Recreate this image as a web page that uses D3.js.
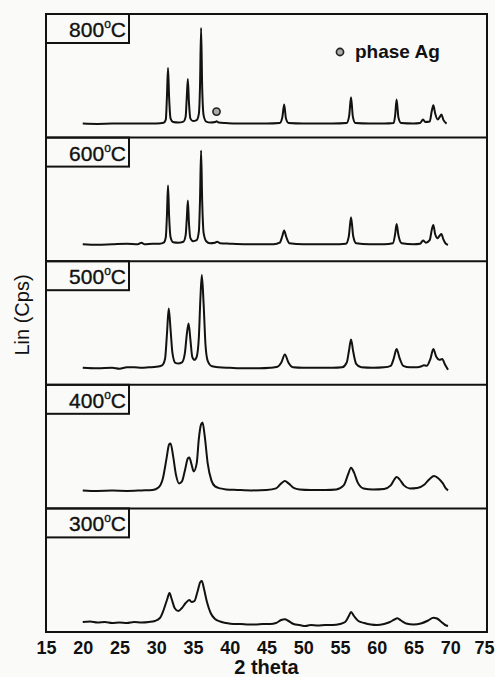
<!DOCTYPE html>
<html>
<head>
<meta charset="utf-8">
<script src="https://cdn.jsdelivr.net/npm/d3@7"></script>
<style>
  body { margin: 0; background: #fafaf8; }
  svg { display: block; font-family: "Liberation Sans", Arial, sans-serif; }
  .trace { fill: none; stroke: #121212; stroke-width: 2; stroke-linejoin: round; }
  .frame { fill: none; stroke: #121212; stroke-width: 2; }
</style>
</head>
<body>
<svg id="chart"></svg>
<script>
// temperatures, top panel first
var temps = ["800", "600", "500", "400", "300"];

// x ticks (2 theta)
var thetaTicks = [15, 20, 25, 30, 35, 40, 45, 50, 55, 60, 65, 70, 75];

// intensities, [2theta, Lin (Cps)] per panel
var pattern800 = [[20,14],[22,13.7],[24,14],[26,14],[28,14],[30,14.2],[31.0,14.8],[31.3,18],[31.45,40],[31.6,69.7],[31.75,40],[31.95,19],[32.3,15.5],[33,15],[33.7,16],[34.0,21],[34.15,40],[34.3,58.7],[34.45,35],[34.65,19],[35.0,16.5],[35.5,17.5],[35.8,24],[35.95,50],[36.1,109.7],[36.25,50],[36.45,22],[36.8,16],[37.4,15],[38.0,15.5],[38.2,16.3],[38.5,15],[39.5,14.5],[41,14],[43,14],[45,14],[46.8,14.5],[47.15,20],[47.4,33],[47.65,19],[48.0,14.5],[50,14],[52,14],[54,14],[55.9,14.5],[56.25,22],[56.5,40.3],[56.75,21],[57.1,14.5],[59,14],[61,14],[62.3,14.5],[62.5,22],[62.7,38],[62.95,20],[63.3,14.5],[65,14],[65.9,14.5],[66.3,18],[66.6,15.5],[67.2,16],[67.5,27],[67.7,32.3],[67.95,24],[68.3,18],[68.6,21],[68.8,23],[69.05,18],[69.5,14]];

var pattern600 = [[20,17],[22,16.5],[24,17],[26,17.5],[27.5,17],[28.0,18.5],[28.4,17],[29.5,17.5],[30.5,17.5],[31.0,18.5],[31.3,24],[31.45,45],[31.6,75.7],[31.75,45],[31.95,24],[32.3,19],[33,18.5],[33.7,19.5],[34.0,26],[34.15,42],[34.3,60.7],[34.45,38],[34.65,23],[35.0,20],[35.5,21],[35.8,30],[35.95,60],[36.1,110.7],[36.25,60],[36.45,28],[36.8,20],[37.3,18],[38.0,18.5],[38.3,19.5],[38.7,18],[40,17.5],[42,17],[44,17],[46,17],[46.8,18.5],[47.15,25],[47.4,30.7],[47.7,24],[48.1,18],[50,17],[52,17],[54,17],[55.8,17.5],[56.2,25],[56.5,44],[56.8,25],[57.2,18],[59,17],[61,17],[62.2,18],[62.5,27],[62.7,37.3],[62.95,26],[63.4,18],[65,17],[65.9,17.5],[66.3,20.7],[66.7,18.5],[67.2,21],[67.5,32],[67.7,36.3],[67.95,27],[68.3,23],[68.6,26],[68.8,27.3],[69.05,22],[69.4,17.5],[69.7,16.5]];

var pattern500 = [[20,17],[22,16.5],[24,17],[25,16],[26,17.5],[27,17.5],[28,17],[29,17.5],[30,18],[30.8,19.5],[31.2,26],[31.45,50],[31.7,76.3],[31.95,55],[32.2,32],[32.6,22],[33.0,21.3],[33.5,22.5],[33.9,32],[34.15,50],[34.4,61.3],[34.65,45],[34.9,28],[35.2,25],[35.5,28],[35.8,48],[36.0,85],[36.2,109.7],[36.45,80],[36.7,40],[37.0,24],[37.6,18.5],[38.5,17.5],[40,17],[42,16.5],[44,16.5],[45.5,17],[46.5,18],[47.0,22],[47.5,30.3],[48.0,22],[48.6,17.5],[50,17],[52,17],[54,17],[55.3,17.5],[55.9,22],[56.2,33],[56.5,45.3],[56.8,33],[57.2,21],[57.9,17.5],[59.5,17],[61,17.5],[61.9,19],[62.3,26],[62.7,35.7],[63.1,27],[63.6,19],[64.5,17.5],[65.5,17.5],[66.1,18.5],[66.4,19.5],[66.8,19],[67.3,26],[67.7,35.7],[68.1,28],[68.5,25],[68.9,25.7],[69.3,20],[69.7,15]];

var pattern400 = [[20,18],[22,17.5],[24,17.8],[26,17.5],[28,18],[29.5,18.5],[30.3,21],[30.9,30],[31.4,50],[31.75,64],[31.95,65],[32.3,52],[32.7,33],[33.1,25],[33.5,27],[33.9,38],[34.3,50],[34.5,51],[34.8,44],[35.1,37],[35.5,45],[35.8,70],[36.1,84],[36.3,86],[36.6,72],[37.0,45],[37.5,28],[38.0,22],[38.7,20],[39.5,19],[41,18.5],[43,18],[45,18.5],[46.3,20],[47.0,25],[47.5,27.3],[48.0,25],[48.7,20.5],[49.5,19],[51,18.5],[53,18.5],[54.5,19],[55.5,23],[56.1,34],[56.5,40.7],[56.9,36],[57.4,26],[58.2,20],[59.5,19],[61,19.5],[61.9,23],[62.4,29],[62.7,31.3],[63.1,29],[63.7,23],[64.5,20],[65.5,20.5],[66.5,24],[67.2,29.5],[67.8,32.3],[68.4,30],[69.0,25],[69.4,20],[69.7,18]];

var pattern300 = [[20,10],[21,10.5],[22,9.5],[23,10],[24,9],[25,9.5],[26,9],[27,10],[28,9.5],[29,10],[29.8,11],[30.5,14],[31.0,22],[31.5,33],[31.8,39],[32.1,33],[32.5,24],[33.0,21],[33.5,24],[34.0,29],[34.5,32],[34.8,30],[35.2,31],[35.6,40],[36.0,50],[36.2,51],[36.5,43],[36.9,30],[37.4,19],[38.0,13],[38.7,10.5],[39.5,9],[40.5,8],[41.5,8],[42.5,7.5],[43.5,7.5],[44.5,8],[45.5,8],[46.3,9],[47.0,12],[47.5,12.7],[48.0,11],[48.7,8],[49.5,7],[50.3,6],[51,7],[52,6.5],[53,7],[54,7],[55,8],[55.7,10],[56.2,16],[56.5,20],[56.9,16],[57.5,11],[58.3,9],[59.2,7.5],[60,7],[61,8],[61.8,10],[62.4,12.5],[62.8,13.7],[63.3,11.5],[64,8.5],[65,7.5],[66,8.5],[67,11.5],[67.7,14.3],[68.2,13.5],[68.8,10],[69.3,7],[69.7,6]];

var patterns = [pattern800, pattern600, pattern500, pattern400, pattern300];

// Ag reflection marker (panel index, 2theta, height)
var agMarkers = [[0, 38.2, 26]];

var width = 495, height = 677;
var plotLeft = 46, plotRight = 487, plotTop = 14, plotBottom = 632;
var panelH = (plotBottom - plotTop) / temps.length;

var svg = d3.select("#chart").attr("width", width).attr("height", height);

var x = d3.scaleLinear().domain([15, 75]).range([plotLeft, plotRight]);

// one y scale per panel
var yScales = temps.map(function(t, i) {
	var y0 = plotTop + i * panelH;
	return d3.scaleLinear().domain([0, panelH]).range([y0 + panelH, y0]);
});

// panels
var panel = svg.selectAll(".panel")
	.data(temps)
	.enter().append("g")
	.attr("class", "panel");

panel.append("path")
	.attr("class", "trace")
	.attr("d", function(t, i) {
		var y = yScales[i];
		return d3.line()
			.x(function(d) { return x(d[0]); })
			.y(function(d) { return y(d[1]); })
			.curve(d3.curveMonotoneX)(patterns[i]);
	});

// label boxes
panel.append("rect")
	.attr("class", "frame")
	.attr("x", plotLeft)
	.attr("y", function(t, i) { return plotTop + i * panelH; })
	.attr("width", 83)
	.attr("height", 29);

var lbl = panel.append("text")
	.attr("x", 126)
	.attr("y", function(t, i) { return plotTop + i * panelH + 23; })
	.attr("text-anchor", "end")
	.attr("font-size", 21)
	.attr("fill", "#111")
	.attr("stroke", "#111")
	.attr("stroke-width", 0.35);
lbl.append("tspan").text(function(t) { return t; });
lbl.append("tspan").attr("font-size", 12).attr("dy", -9).text("o");
lbl.append("tspan").attr("dy", 9).text("C");

// panel dividers
svg.selectAll(".divider")
	.data(d3.range(1, temps.length))
	.enter().append("line")
	.attr("class", "frame")
	.attr("x1", plotLeft).attr("x2", plotRight)
	.attr("y1", function(i) { return plotTop + i * panelH; })
	.attr("y2", function(i) { return plotTop + i * panelH; });

// outer frame
svg.append("rect")
	.attr("class", "frame")
	.attr("x", plotLeft).attr("y", plotTop)
	.attr("width", plotRight - plotLeft).attr("height", plotBottom - plotTop);

// Ag markers
svg.selectAll(".ag")
	.data(agMarkers)
	.enter().append("circle")
	.attr("cx", function(d) { return x(d[1]); })
	.attr("cy", function(d) { return yScales[d[0]](d[2]); })
	.attr("r", 3.6)
	.attr("fill", "#aaa")
	.attr("stroke", "#222")
	.attr("stroke-width", 1.6);

// legend
svg.append("circle")
	.attr("cx", 340).attr("cy", 52).attr("r", 3.6)
	.attr("fill", "#aaa").attr("stroke", "#222").attr("stroke-width", 1.6);
svg.append("text")
	.attr("x", 355).attr("y", 58)
	.attr("font-size", 19).attr("font-weight", "bold").attr("fill", "#111")
	.text("phase Ag");

// x axis
var xAxis = svg.append("g")
	.attr("transform", "translate(0," + plotBottom + ")")
	.call(d3.axisBottom(x).tickValues(thetaTicks).tickSize(0).tickPadding(9));
xAxis.select(".domain").remove();
xAxis.selectAll("text")
	.attr("font-size", 18)
	.attr("font-weight", "bold")
	.attr("font-family", "Liberation Sans, Arial, sans-serif")
	.attr("fill", "#111")
	.attr("dx", function(d) { return d === 75 ? -3 : 0; });

svg.append("text")
	.attr("x", x(45)).attr("y", 674)
	.attr("text-anchor", "middle")
	.attr("font-size", 20).attr("font-weight", "bold").attr("fill", "#111")
	.text("2 theta");

svg.append("text")
	.attr("transform", "translate(29,315) rotate(-90)")
	.attr("text-anchor", "middle")
	.attr("font-size", 20).attr("fill", "#111")
	.text("Lin (Cps)");
</script>
</body>
</html>
